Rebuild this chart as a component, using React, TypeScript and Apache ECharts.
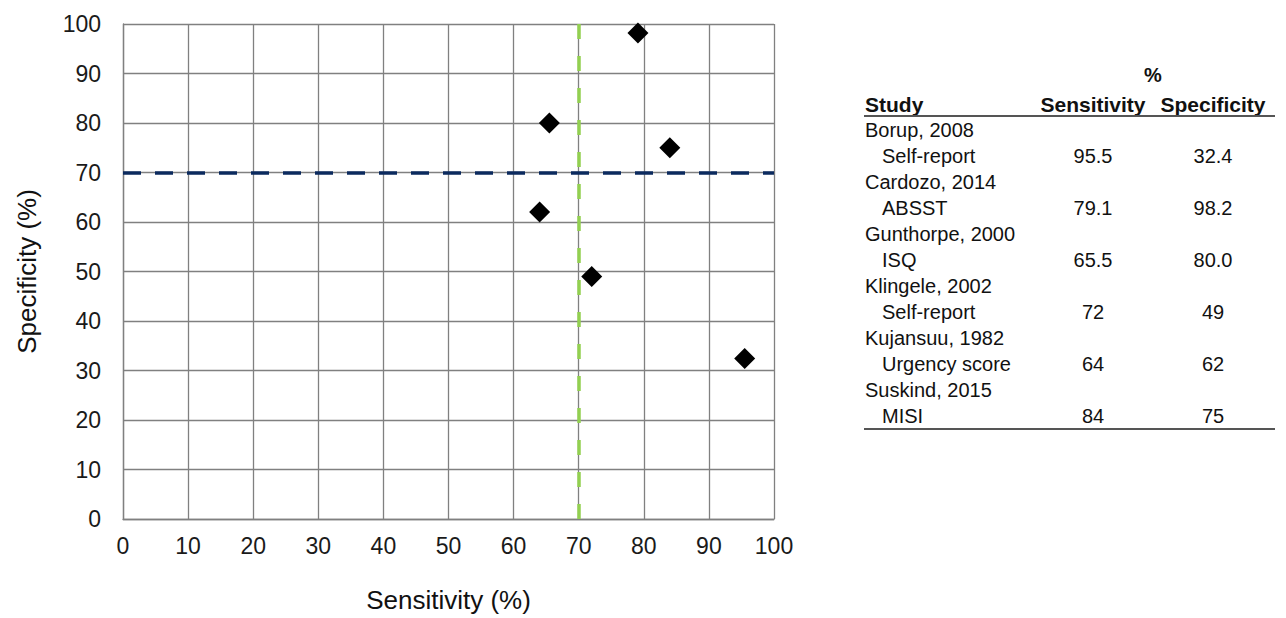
import React, { useEffect, useRef } from "react";
import * as echarts from "echarts";

const studies = ["Borup, 2008", "Cardozo, 2014", "Gunthorpe, 2000", "Klingele, 2002", "Kujansuu, 1982", "Suskind, 2015"];
const methods = ["Self-report", "ABSST", "ISQ", "Self-report", "Urgency score", "MISI"];
const sensitivity = [95.5, 79.1, 65.5, 72, 64, 84];
const specificity = [32.4, 98.2, 80.0, 49, 62, 75];
const decimals = [1, 1, 1, 0, 0, 0];
const sensThreshold = 70;
const specThreshold = 70;
const axisTicks = [0, 10, 20, 30, 40, 50, 60, 70, 80, 90, 100];

const FONT = "'Liberation Sans', Arial, sans-serif";

export default function App() {
  const ref = useRef<HTMLDivElement>(null);
  useEffect(() => {
    if (!ref.current) return;
    const chart = echarts.init(ref.current, undefined, { renderer: "svg" });
    const points = sensitivity.map((s, i) => [s, specificity[i]]);

    const rowTop = 130;
    const rowStep = 26;
    const graphics: any[] = [];
    const txt = (text: string, x: number, y: number, align: string, bold = false, size = 20) => ({
      type: "text",
      x,
      y,
      silent: true,
      style: {
        text,
        fill: "#111",
        font: `${bold ? "bold " : ""}${size}px ${FONT}`,
        textAlign: align,
        textVerticalAlign: "middle",
      },
    });
    graphics.push(txt("%", 1153, 75, "center", true, 20));
    graphics.push(txt("Study", 865, 104, "left", true, 21));
    graphics.push(txt("Sensitivity", 1093, 104, "center", true, 21));
    graphics.push(txt("Specificity", 1213, 104, "center", true, 21));
    graphics.push({
      type: "line",
      silent: true,
      shape: { x1: 864, y1: 116, x2: 1275, y2: 116 },
      style: { stroke: "#555", lineWidth: 2 },
    });
    studies.forEach((s, i) => {
      const y1 = rowTop + rowStep * 2 * i;
      const y2 = y1 + rowStep;
      graphics.push(txt(s, 865, y1, "left"));
      graphics.push(txt(methods[i], 882, y2, "left"));
      graphics.push(txt(sensitivity[i].toFixed(decimals[i]), 1093, y2, "center"));
      graphics.push(txt(specificity[i].toFixed(decimals[i]), 1213, y2, "center"));
    });
    graphics.push({
      type: "line",
      silent: true,
      shape: { x1: 864, y1: 429, x2: 1275, y2: 429 },
      style: { stroke: "#555", lineWidth: 2 },
    });

    const axisCommon = {
      type: "value",
      min: axisTicks[0],
      max: axisTicks[axisTicks.length - 1],
      interval: axisTicks[1] - axisTicks[0],
      nameLocation: "middle",
      nameTextStyle: { fontFamily: FONT, fontSize: 26, color: "#111" },
      axisLine: { show: true, lineStyle: { color: "#808080", width: 1.3 } },
      axisTick: { show: false },
      splitLine: { show: true, lineStyle: { color: "#808080", width: 1.3 } },
      axisLabel: { fontFamily: FONT, fontSize: 23, color: "#1a1a1a" },
    };

    chart.setOption({
      animation: false,
      grid: { left: 123, right: 512, top: 24, bottom: 96, containLabel: false },
      xAxis: {
        ...axisCommon,
        name: "Sensitivity (%)",
        nameGap: 68,
        axisLabel: { ...axisCommon.axisLabel, margin: 15 },
      },
      yAxis: {
        ...axisCommon,
        name: "Specificity (%)",
        nameGap: 83,
        axisLabel: { ...axisCommon.axisLabel, margin: 22 },
      },
      graphic: graphics,
      series: [
        {
          type: "scatter",
          data: points,
          symbol: "diamond",
          symbolSize: [21, 21],
          itemStyle: { color: "#000", opacity: 1 },
          z: 5,
          markLine: {
            silent: true,
            symbol: "none",
            label: { show: false },
            data: [
              { xAxis: sensThreshold, lineStyle: { color: "#92D050", width: 3.5, type: [15, 17] } },
              { yAxis: specThreshold, lineStyle: { color: "#0B2A5E", width: 3.5, type: [18, 14] } },
            ],
          },
        },
      ],
    });
    return () => chart.dispose();
  }, []);
  return <div ref={ref} style={{ position: "absolute", left: 0, top: 0, width: 1286, height: 618, background: "#fff" }} />;
}
